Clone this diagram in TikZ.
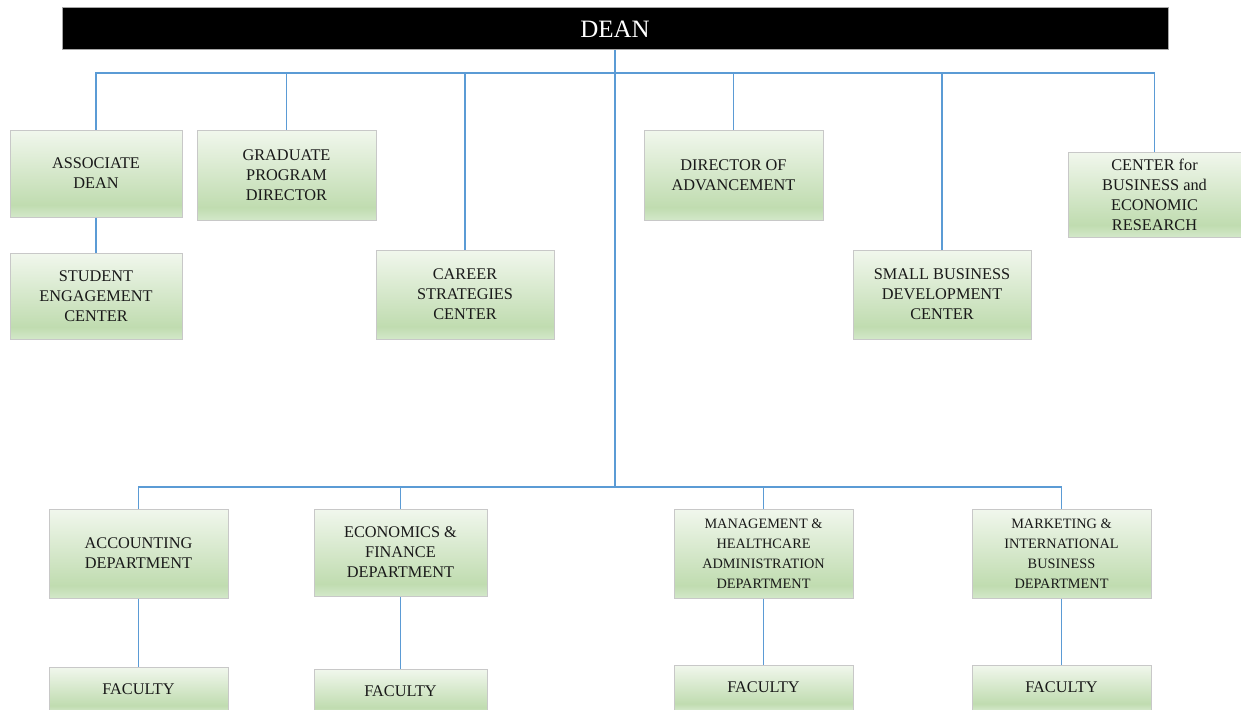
\documentclass[tikz,border=0pt]{standalone}
\usepackage{fontspec}
\setmainfont{Liberation Serif}
\definecolor{gT}{HTML}{F1F7ED}
\definecolor{gM}{HTML}{C0DCB0}
\definecolor{gB}{HTML}{D3E8C9}
\definecolor{boxgray}{HTML}{C8C8C8}
\definecolor{connblue}{HTML}{5B9BD5}
\pgfdeclareverticalshading{greenbox}{100bp}{color(0bp)=(gB); color(25bp)=(gB); color(32bp)=(gM); color(75bp)=(gT); color(100bp)=(gT)}
\tikzset{
  orgbox/.style={draw=boxgray, line width=1pt, shading=greenbox, align=center, inner sep=0pt,
    font=\fontsize{16.3}{20}\selectfont, text=black!90},
  smallbox/.style={orgbox, font=\fontsize{14.3}{20}\selectfont},
  conn/.style={draw=connblue, line width=1.5pt},
  mainconn/.style={draw=connblue, line width=2pt},
}
\begin{document}
\begin{tikzpicture}[x=1pt,y=-1pt]
\useasboundingbox (0,0) rectangle (1241,709);
\node[draw=gray!70, line width=1pt, fill=black, text=white, minimum width=1106pt, minimum height=42pt, inner sep=0pt, font=\fontsize{25}{30}\selectfont] (dean) at (615,29) {DEAN};
\coordinate (t) at (615,73);
\coordinate (b) at (615,487);

\node[orgbox, minimum width=172pt, minimum height=87pt] (ad) at (96,173.5) {ASSOCIATE\\DEAN};
\node[orgbox, minimum width=179pt, minimum height=90pt] (gpd) at (286.5,175) {GRADUATE\\PROGRAM\\DIRECTOR};
\node[orgbox, minimum width=172pt, minimum height=86pt] (sec) at (96,296) {STUDENT\\ENGAGEMENT\\CENTER};
\node[orgbox, minimum width=178pt, minimum height=89pt] (csc) at (465,294.5) {CAREER\\STRATEGIES\\CENTER};
\node[orgbox, minimum width=179pt, minimum height=90pt] (doa) at (733.5,175) {DIRECTOR OF\\ADVANCEMENT};
\node[orgbox, minimum width=178pt, minimum height=89pt] (sbdc) at (942,294.5) {SMALL BUSINESS\\DEVELOPMENT\\CENTER};
\node[orgbox, minimum width=173pt, minimum height=85pt] (cber) at (1154.5,194.5) {CENTER for\\BUSINESS and\\ECONOMIC\\RESEARCH};

\node[orgbox, minimum width=179pt, minimum height=89pt] (acc) at (138.5,553.5) {ACCOUNTING\\DEPARTMENT};
\node[orgbox, minimum width=173pt, minimum height=87pt] (eco) at (400.5,552.5) {ECONOMICS \&\\FINANCE\\DEPARTMENT};
\node[smallbox, minimum width=179pt, minimum height=89pt] (mgt) at (763.5,553.5) {MANAGEMENT \&\\HEALTHCARE\\ADMINISTRATION\\DEPARTMENT};
\node[smallbox, minimum width=179pt, minimum height=89pt] (mkt) at (1061.5,553.5) {MARKETING \&\\INTERNATIONAL\\BUSINESS\\DEPARTMENT};

\node[orgbox, minimum width=179pt, minimum height=45pt] (fac1) at (138.5,689.5) {FACULTY};
\node[orgbox, minimum width=173pt, minimum height=45pt] (fac2) at (400.5,691.5) {FACULTY};
\node[orgbox, minimum width=179pt, minimum height=45pt] (fac3) at (763.5,687.5) {FACULTY};
\node[orgbox, minimum width=179pt, minimum height=45pt] (fac4) at (1061.5,687.5) {FACULTY};

% connectors
\draw[mainconn] (dean.south -| t) -- (b);
\draw[conn] (ad.north) |- (t);
\draw[conn] (cber.north) |- (t);
\draw[conn] (gpd.north) -- (gpd.north |- t);
\draw[conn] (csc.north) -- (csc.north |- t);
\draw[conn] (doa.north) -- (doa.north |- t);
\draw[conn] (sbdc.north) -- (sbdc.north |- t);
\draw[conn] (ad.south) -- (sec.north);

\draw[conn] (acc.north) |- (b);
\draw[conn] (mkt.north) |- (b);
\draw[conn] (eco.north) -- (eco.north |- b);
\draw[conn] (mgt.north) -- (mgt.north |- b);

\draw[conn] (acc.south) -- (fac1.north);
\draw[conn] (eco.south) -- (fac2.north);
\draw[conn] (mgt.south) -- (fac3.north);
\draw[conn] (mkt.south) -- (fac4.north);
\end{tikzpicture}
\end{document}
